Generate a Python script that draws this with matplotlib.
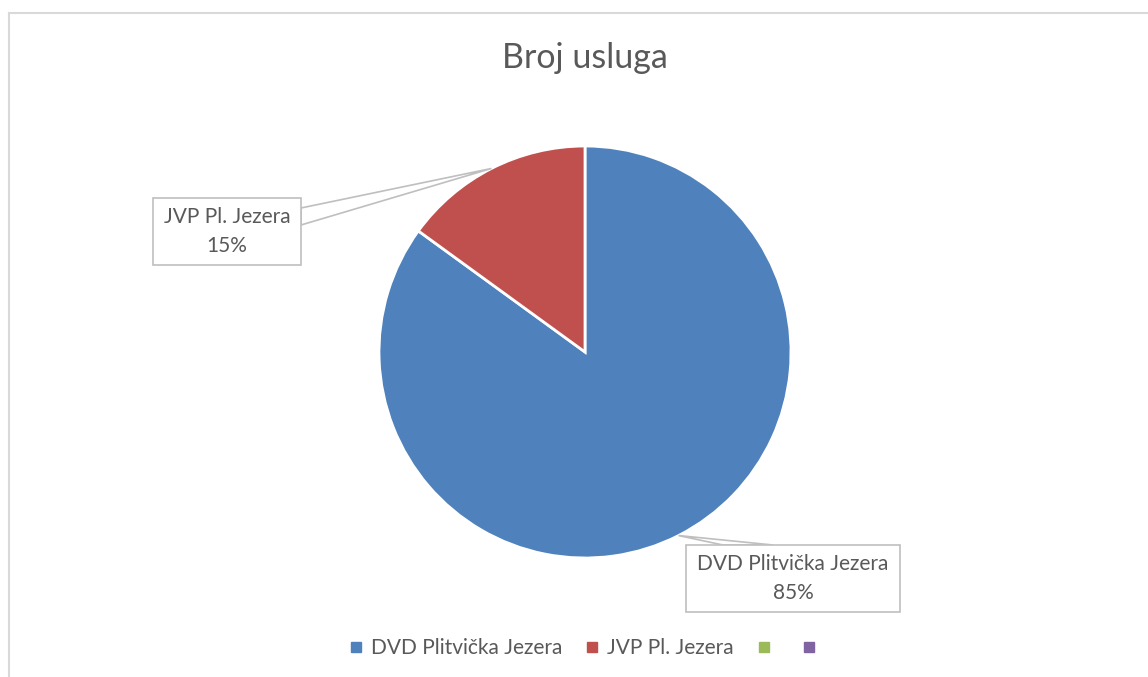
import numpy as np
import matplotlib
matplotlib.use("Agg")
import matplotlib.pyplot as plt
from matplotlib.lines import Line2D
from matplotlib.patches import Rectangle, Polygon

plt.rcParams["font.family"] = ["Lato", "DejaVu Sans"]

# data
title = "Broj usluga"
categories = ["DVD Plitvička Jezera", "JVP Pl. Jezera", "", ""]
shares = [85, 15]
colors = ["#4F81BD", "#C0504D", "#9BBB59", "#8064A2"]

W, H = 1148, 677
TXT = "#595959"
GRID = "#BFBFBF"


def fy(y):
    # image row -> data y
    return H - y


fig = plt.figure(figsize=(W / 100, H / 100), dpi=100)
ax = fig.add_axes([0, 0, 1, 1])

cx, cy, r = 585, fy(352), 206
wedges, _ = ax.pie(shares, colors=colors[:2], startangle=90, counterclock=False,
                   center=(cx, cy), radius=r,
                   wedgeprops=dict(edgecolor="white", linewidth=2))
ax.set_xlim(0, W)
ax.set_ylim(0, H)
ax.set_aspect("auto")
ax.axis("off")

# chart border (only top and left visible)
ax.plot([8.5, W + 10], [fy(12.5), fy(12.5)], color="#D9D9D9", lw=1.5, clip_on=False)
ax.plot([8.5, 8.5], [fy(12.5), -10], color="#D9D9D9", lw=1.5, clip_on=False)

ax.text(cx, fy(58), title, ha="center", va="center", fontsize=24.5, color=TXT)

# callout boxes: (x0, y0, w, h) in image px, and leader base points
boxes = [
    ((686, 545, 214, 67), [(723, 545), (773, 545)]),
    ((153, 198, 148, 67), [(301, 208), (301, 225)]),
]
for w, name, s, (box, base) in zip(wedges, categories, shares, boxes):
    mid = np.deg2rad((w.theta1 + w.theta2) / 2)
    tip = (cx + r * np.cos(mid), cy + r * np.sin(mid))
    pts = [tip] + [(bx, fy(by)) for bx, by in base]
    ax.add_patch(Polygon(pts, closed=True, facecolor="white", edgecolor=GRID,
                         lw=1.2, zorder=3))
    x0, y0, bw, bh = box
    ax.add_patch(Rectangle((x0, fy(y0 + bh)), bw, bh, facecolor="white",
                           edgecolor=GRID, lw=1.2, zorder=4))
    ax.text(x0 + bw / 2, fy(y0 + bh / 2), f"{name}\n{s}%", ha="center", va="center",
            fontsize=15, color=TXT, linespacing=1.55, zorder=5)

handles = [Line2D([], [], marker="s", linestyle="", color=c, markersize=6.5) for c in colors]
ax.legend(handles, categories, loc="center", bbox_to_anchor=(587 / W, 1 - 648 / H),
          ncol=4, frameon=False, fontsize=15, labelcolor=TXT,
          handlelength=0.5, handletextpad=0.45, columnspacing=1.2)

fig.savefig("out.png", dpi=100, facecolor="white")
